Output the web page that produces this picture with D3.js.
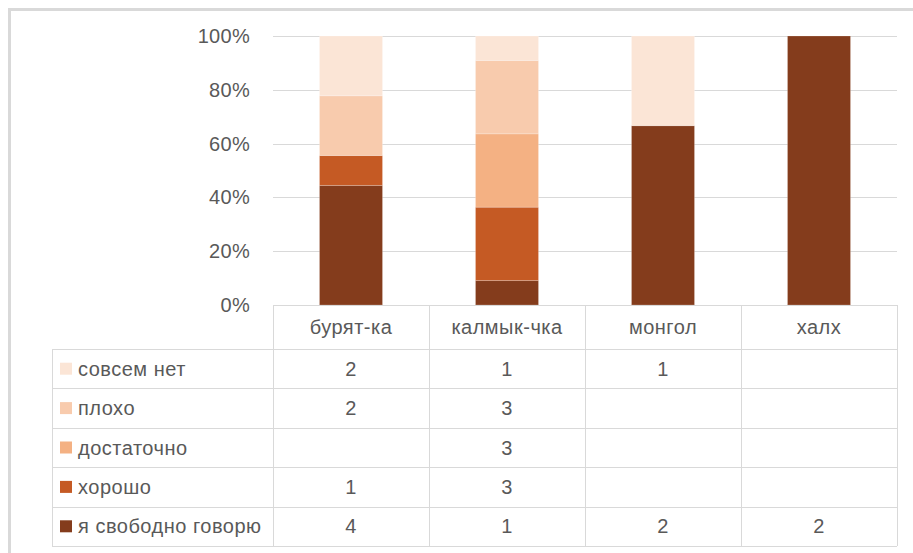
<!DOCTYPE html>
<html><head><meta charset="utf-8">
<script src="https://cdn.jsdelivr.net/npm/d3@7"></script>
<style>
html,body{margin:0;padding:0;background:#fff;}
svg text{font-family:"Liberation Sans",Arial,sans-serif;fill:#595959;}
</style></head>
<body><svg id="c" width="913" height="553"></svg>
<script>
const categories = ["бурят-ка","калмык-чка","монгол","халх"];
const seriesNames = ["я свободно говорю","хорошо","достаточно","плохо","совсем нет"];
const svobodno = [4,1,2,2];
const horosho = [1,3,null,null];
const dostatochno = [null,3,null,null];
const ploho = [2,3,null,null];
const sovsemNet = [2,1,1,null];
const yTicks = [0,0.2,0.4,0.6,0.8,1];
const colors = ["#843C1C","#C55A24","#F4B183","#F8CBAD","#FBE5D6"];

const seriesValues = [svobodno,horosho,dostatochno,ploho,sovsemNet];
const rows = categories.map((c,i)=>{const o={cat:c}; seriesNames.forEach((s,j)=>o[s]=seriesValues[j][i]||0); return o;});
const stacked = d3.stack().keys(seriesNames).offset(d3.stackOffsetExpand)(rows);

const svg = d3.select("#c");
// outer frame
svg.append("rect").attr("x",9.5).attr("y",9.5).attr("width",1000).attr("height",1000)
  .attr("fill","none").attr("stroke","#d9d9d9").attr("stroke-width",3);

const x = d3.scaleBand().domain(categories).range([273,897]).paddingInner(0).paddingOuter(0);
const y = d3.scaleLinear().domain([0,1]).range([305,36]);

// gridlines
svg.append("g").selectAll("line").data(yTicks.slice(1)).join("line")
  .attr("x1",273).attr("x2",897).attr("y1",d=>Math.round(y(d))+0.5).attr("y2",d=>Math.round(y(d))+0.5)
  .attr("stroke","#d9d9d9").attr("stroke-width",1);

// y axis labels
const yAxis = d3.axisLeft(y).tickValues(yTicks).tickFormat(d3.format(".0%")).tickSize(0).tickPadding(0);
const ya = svg.append("g").attr("transform","translate(250,0)").call(yAxis);
ya.select(".domain").remove();
ya.selectAll("text").attr("font-size",20).style("font-family","'Liberation Sans',Arial,sans-serif")
  .attr("fill","#595959").style("letter-spacing","0.3px");

// bars
const bw = 63;
svg.append("g").selectAll("g").data(stacked).join("g").attr("fill",(d,i)=>colors[i])
  .selectAll("rect").data(d=>d).join("rect")
  .attr("x",d=>x(d.data.cat)+x.bandwidth()/2-bw/2)
  .attr("y",d=>y(d[1]))
  .attr("width",bw)
  .attr("height",d=>Math.max(0,y(d[0])-y(d[1])))
  .attr("stroke","#ffffff").attr("stroke-opacity",0.2).attr("stroke-width",1);

// data table
const tableLeft = 52, headerTop = 305, rowTop = 349, rowH = 39.4;
const tableRows = seriesNames.slice().reverse();
const tableVals = seriesValues.slice().reverse();
const colBg = tableRows.map((_, i)=>colors[colors.length-1-i]);
const tableBottom = rowTop + rowH*tableRows.length;
const g = svg.append("g").style("letter-spacing","0.5px");
const lc = "#d9d9d9";
g.append("line").attr("x1",273).attr("x2",897).attr("y1",headerTop+0.5).attr("y2",headerTop+0.5).attr("stroke",lc);
d3.range(tableRows.length+1).forEach(i=>{
  const yy = Math.round(rowTop+i*rowH)+0.5;
  g.append("line").attr("x1",tableLeft).attr("x2",897).attr("y1",yy).attr("y2",yy).attr("stroke",lc);
});
g.append("line").attr("x1",tableLeft+0.5).attr("x2",tableLeft+0.5).attr("y1",rowTop).attr("y2",tableBottom).attr("stroke",lc);
categories.forEach(c=>{
  g.append("line").attr("x1",Math.round(x(c))+0.5).attr("x2",Math.round(x(c))+0.5).attr("y1",headerTop).attr("y2",tableBottom).attr("stroke",lc);
});
g.append("line").attr("x1",897.5).attr("x2",897.5).attr("y1",headerTop).attr("y2",tableBottom).attr("stroke",lc);

g.selectAll("text.cat").data(categories).join("text").attr("class","cat")
  .attr("x",d=>x(d)+x.bandwidth()/2).attr("y",(headerTop+rowTop)/2).attr("dy","0.35em")
  .attr("text-anchor","middle").attr("font-size",20).text(d=>d);

tableRows.forEach((name,i)=>{
  const cy = rowTop + rowH*i + rowH/2;
  g.append("rect").attr("x",60).attr("y",cy-6).attr("width",12).attr("height",12).attr("fill",colBg[i]);
  g.append("text").attr("x",78).attr("y",cy).attr("dy","0.35em").attr("font-size",20).text(name);
  categories.forEach((c,k)=>{
    const v = tableVals[i][k];
    if (v!=null) g.append("text").attr("x",x(c)+x.bandwidth()/2).attr("y",cy).attr("dy","0.35em")
      .attr("text-anchor","middle").attr("font-size",20).text(v);
  });
});
</script></body></html>
